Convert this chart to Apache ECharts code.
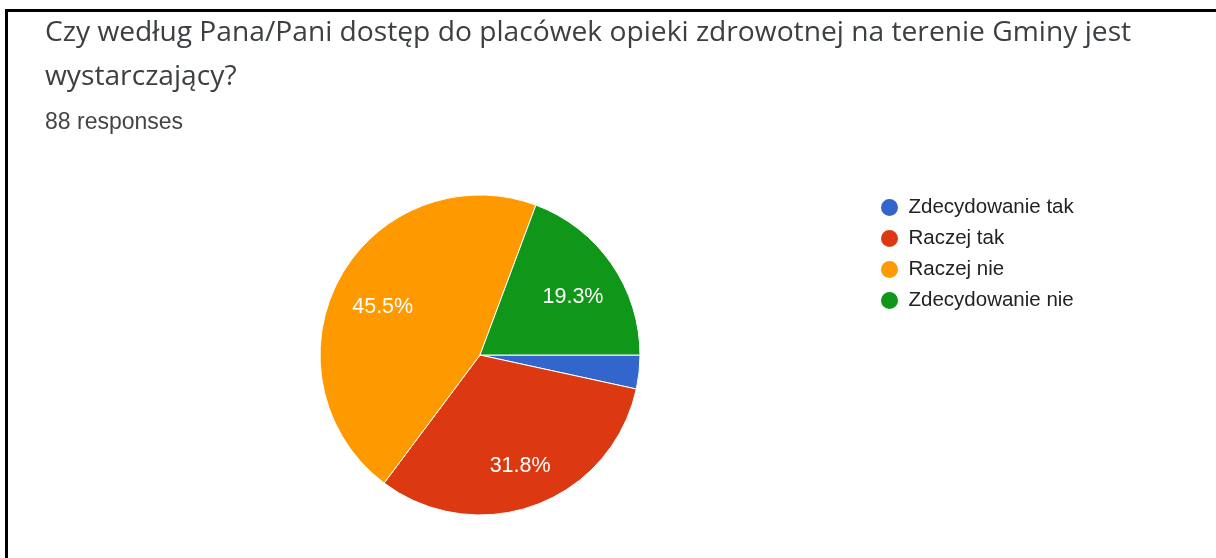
<!DOCTYPE html>
<html>
<head>
<meta charset="utf-8">
<script src="https://cdn.jsdelivr.net/npm/echarts@6/dist/echarts.min.js"></script>
<style>
  html, body { margin: 0; padding: 0; background: #fff; }
  #frame { position: absolute; left: 5px; top: 9px; width: 1211px; height: 549px;
           border-top: 3px solid #000; border-left: 3px solid #000; box-sizing: border-box; }
  #chart { position: absolute; left: 0; top: 0; width: 1216px; height: 558px; }
</style>
</head>
<body>
<div id="frame"></div>
<div id="chart"></div>
<script>
const titleLines = ['Czy według Pana/Pani dostęp do placówek opieki zdrowotnej na terenie Gminy jest', 'wystarczający?'];
const responsesText = '88 responses';
const categories = ['Zdecydowanie tak', 'Raczej tak', 'Raczej nie', 'Zdecydowanie nie'];
const counts = [3, 28, 40, 17];
const colors = ['#3366cc', '#dc3912', '#ff9900', '#109618'];

const pieData = categories.map((name, i) => ({ name: name, value: counts[i], itemStyle: { color: colors[i] } }));
const labelData = categories.map((name, i) => ({ name: name, value: counts[i] }));

const chart = echarts.init(document.getElementById('chart'), null, { renderer: 'canvas' });
chart.setOption({
  animation: false,
  title: [
    {
      text: titleLines.join('\n'),
      left: 40, top: 6,
      textStyle: { fontFamily: 'Open Sans', fontSize: 28.2, fontWeight: 'normal', color: '#3c4043', lineHeight: 44 }
    },
    {
      text: responsesText,
      left: 40, top: 106,
      textStyle: { fontFamily: 'Liberation Sans', fontSize: 23, fontWeight: 'normal', color: '#444', lineHeight: 24 }
    }
  ],
  legend: {
    orient: 'vertical',
    left: 874, top: 192,
    icon: 'circle',
    itemWidth: 28, itemHeight: 19, itemGap: 10,
    data: categories,
    selectedMode: false,
    textStyle: { fontFamily: 'Liberation Sans', fontSize: 20.5, color: '#222', lineHeight: 19 }
  },
  series: [
    {
      type: 'pie',
      center: [480, 355],
      radius: [0, 160],
      startAngle: 0,
      clockwise: true,
      label: { show: false },
      labelLine: { show: false },
      itemStyle: { borderColor: '#fff', borderWidth: 1 },
      data: pieData
    },
    {
      type: 'pie',
      center: [481, 361],
      radius: [58, 160],
      startAngle: 0,
      clockwise: true,
      silent: true,
      percentPrecision: 1,
      itemStyle: { color: 'rgba(0,0,0,0)' },
      labelLine: { show: false },
      label: {
        show: true,
        position: 'inside',
        color: '#fff',
        fontFamily: 'Liberation Sans',
        fontSize: 21.5,
        formatter: p => (p.percent >= 5 ? p.percent.toFixed(1) + '%' : '')
      },
      data: labelData
    }
  ]
});
</script>
</body>
</html>
